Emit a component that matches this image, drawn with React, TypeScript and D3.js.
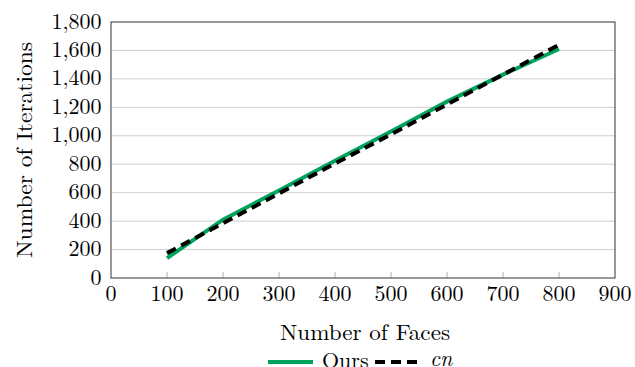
import React from "react";
import * as d3 from "d3";

const faces = [100, 200, 300, 400, 500, 600, 700, 800];
const ours = [140, 410, 615, 825, 1030, 1240, 1430, 1610];
const cn = [175, 385, 595, 805, 1010, 1220, 1430, 1640];
const xTicks = [0, 100, 200, 300, 400, 500, 600, 700, 800, 900];
const yTicks = [0, 200, 400, 600, 800, 1000, 1200, 1400, 1600, 1800];

const FONT = "'Latin Modern Roman', 'Liberation Serif', 'DejaVu Serif', serif";

export default function App() {
  const W = 635, H = 367;
  const left = 111, right = 615, top = 22, bottom = 278;
  const x = d3.scaleLinear().domain([0, 900]).range([left, right]);
  const y = d3.scaleLinear().domain([0, 1800]).range([bottom, top]);
  const line = d3.line<[number, number]>().x(d => x(d[0])).y(d => y(d[1]));
  const oursPts = faces.map((f, i) => [f, ours[i]] as [number, number]);
  const cnPts = faces.map((f, i) => [f, cn[i]] as [number, number]);
  const fmt = d3.format(",");
  const FS = 22;
  return (
    <svg width={W} height={H} style={{ position: "absolute", left: 0, top: 0 }} fontFamily={FONT}>
      <rect x={0} y={0} width={W} height={H} fill="white" />
      {yTicks.slice(1, -1).map(t => (
        <line key={t} x1={left} x2={right} y1={y(t)} y2={y(t)} stroke="#cfcfcf" strokeWidth={1} />
      ))}
      {xTicks.slice(1, -1).map(t => (
        <line key={t} x1={x(t)} x2={x(t)} y1={bottom} y2={bottom - 6} stroke="#b0b0b0" strokeWidth={1} />
      ))}
      <rect x={left} y={top} width={right - left} height={bottom - top} fill="none" stroke="#333" strokeWidth={1} />
      <path d={line(oursPts) || ""} fill="none" stroke="#00a35c" strokeWidth={4} />
      <path d={line(cnPts) || ""} fill="none" stroke="#000" strokeWidth={4} strokeDasharray="10 6" />
      {yTicks.map(t => (
        <text key={t} x={left - 9.5} y={y(t) + 6.5} textAnchor="end" fontSize={FS} fill="#000">{fmt(t)}</text>
      ))}
      {xTicks.map(t => (
        <text key={t} x={x(t)} y={301} textAnchor="middle" fontSize={FS} fill="#000">{t}</text>
      ))}
      <text x={280} y={340} fontSize={FS} fill="#000" textLength={170} lengthAdjust="spacingAndGlyphs">Number of Faces</text>
      <text transform={`translate(32, ${(top + bottom) / 2}) rotate(-90)`} textAnchor="middle" fontSize={FS} fill="#000" textLength={216} lengthAdjust="spacingAndGlyphs">Number of Iterations</text>
      <line x1={268} x2={313} y1={362} y2={362} stroke="#00a35c" strokeWidth={4} />
      <text x={322} y={368} fontSize={FS} fill="#000">Ours</text>
      <line x1={375} x2={417} y1={362} y2={362} stroke="#000" strokeWidth={4} strokeDasharray="10 6" />
      <text x={430} y={366} fontSize={FS} fontStyle="italic" fill="#000">cn</text>
    </svg>
  );
}
